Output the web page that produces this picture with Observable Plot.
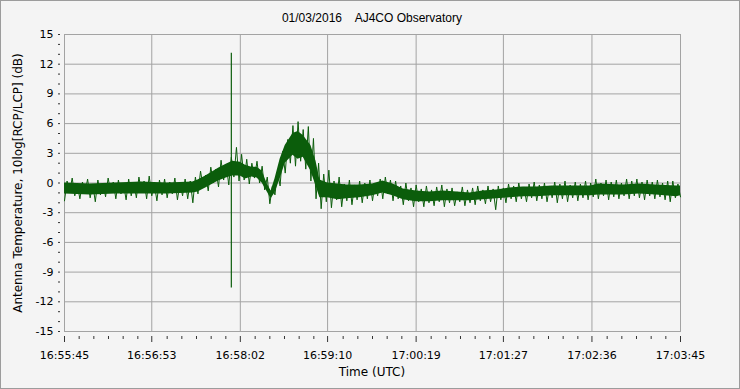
<!DOCTYPE html>
<html><head><meta charset="utf-8">
<script src="https://cdn.jsdelivr.net/npm/d3@7"></script>
<script src="https://cdn.jsdelivr.net/npm/@observablehq/plot@0.6"></script>
<style>
html,body{margin:0;padding:0;background:#f4f4f4;}
#wrap{position:relative;width:738px;height:387px;border:1px solid #9c9c9c;background:#f4f4f4;overflow:hidden;}
#title{position:absolute;top:10px;left:63px;width:616px;text-align:center;font:12px "Liberation Sans",sans-serif;white-space:pre;color:#000;}
#xlabel{position:absolute;top:364px;left:63px;width:616px;text-align:center;font:12px "DejaVu Sans",sans-serif;color:#000;}
#ylabel{position:absolute;left:17px;top:182px;transform:translate(-50%,-50%) rotate(-90deg);white-space:nowrap;font:12px "DejaVu Sans",sans-serif;color:#000;}
#chart{position:absolute;left:0;top:0;}
</style></head><body>
<div id="wrap">
<div id="chart"></div>
<div id="title">01/03/2016    AJ4CO Observatory</div>
<div id="xlabel">Time (UTC)</div>
<div id="ylabel">Antenna Temperature, 10log[RCP/LCP] (dB)</div>
</div>
<script>
// ---- data ----
const dateStr = "2016-01-03";
const startLabel = "16:55:45";
const endLabel = "17:03:45";
const xTickLabels = ["16:55:45","16:56:53","16:58:02","16:59:10","17:00:19","17:01:27","17:02:36","17:03:45"];
const yTicks = [-15,-12,-9,-6,-3,0,3,6,9,12,15];

// noisy trace: alternating local minima / maxima every 2 s from start (dB)
const noiseStepSec = 2;
const noise = [
-1.8, 0.2, -0.9, 0.5, -1.3, -0.2, -1.6, 0.1, -1.0, 0.4,
-1.5, -0.1, -1.9, 0.3, -1.2, 0.0, -1.4, 0.5, -0.9, 0.1,
-1.6, 0.3, -1.1, -0.1, -1.7, 0.4, -1.3, 0.1, -1.5, 0.6,
-1.0, 0.2, -1.6, 0.7, -1.3, -0.1, -1.8, 0.3, -1.2, 0.4,
-1.5, 0.1, -1.1, 0.5, -1.7, 0.0, -1.3, 0.4, -1.6, 0.2,
-2.0, 0.6, -1.1, 1.2, -0.4, 0.8, -0.8, 1.6, 0.0, 1.4,
-0.4, 2.3, 0.3, 1.9, -0.2, 2.6, 0.6, 3.6, 0.2, 2.9,
0.3, 2.4, -0.1, 2.0, 0.5, 2.2, 0.0, 1.7, -0.7, 0.6,
-2.1, -0.3, -1.2, 1.2, -0.3, 3.2, 1.0, 4.4, 2.0, 5.8,
1.7, 6.2, 2.2, 5.4, 1.4, 5.7, 0.2, 4.5, -1.6, 2.0,
-2.6, 0.9, -1.9, 1.3, -2.5, 0.2, -1.7, 0.6, -2.4, -0.1,
-1.8, 0.3, -2.2, -0.2, -1.7, 0.2, -2.0, 0.0, -1.6, 0.3,
-1.8, 0.0, -1.3, 0.4, -1.6, 0.6, -1.1, 0.3, -1.8, 0.2,
-1.6, -0.3, -2.2, 0.0, -1.8, -0.5, -2.4, -0.2, -1.9, -0.6,
-2.4, -0.3, -2.0, -0.7, -2.3, -0.4, -1.9, -0.2, -2.4, -0.6,
-2.0, -0.5, -2.3, -0.9, -1.9, -0.4, -2.3, -0.7, -2.0, -0.5,
-2.2, -0.3, -1.8, -0.7, -2.1, -0.3, -1.9, -0.6, -2.7, -0.3,
-1.7, -0.5, -2.0, -0.1, -1.6, -0.3, -1.9, 0.0, -1.6, -0.4,
-1.9, -0.1, -1.5, 0.1, -1.8, -0.2, -1.6, 0.0, -1.9, -0.3,
-1.5, 0.1, -2.0, -0.1, -1.6, 0.2, -1.9, -0.2, -1.5, 0.1,
-1.8, -0.1, -1.5, 0.2, -1.7, 0.0, -1.4, 0.4, -1.6, 0.0,
-1.3, 0.3, -1.7, 0.1, -1.4, 0.3, -1.6, 0.0, -1.3, 0.4,
-1.6, 0.2, -1.3, 0.4, -1.5, 0.1, -1.7, 0.3, -1.3, 0.1,
-1.6, 0.3, -1.4, 0.0, -1.7, 0.2, -1.9, 0.2, -1.5, -0.1,
-1.4
];

// dense core of the trace (seconds after start, low, high in dB)
const coreSec = [0,20,40,60,80,100,104,110,120,126,131,137,141,146,150,154,158,161,164,168,172,178,182,186,192,196,199,205,213,220,230,240,248,256,264,274,285,295,306,316,326,337,347,357,368,380,395,410,416,435,448,461,477,480];
const coreLo  = [-1.1,-1.2,-1.1,-1.1,-1.1,-1.0,-0.9,-0.5,0.2,0.5,0.7,0.7,0.4,0.6,0.5,0.0,-0.9,-1.6,-1.0,0.4,2.0,2.8,2.4,2.6,1.2,-0.3,-1.5,-1.5,-1.7,-1.6,-1.5,-1.3,-1.0,-1.3,-1.7,-1.9,-1.9,-1.8,-1.8,-1.8,-1.7,-1.6,-1.5,-1.4,-1.4,-1.3,-1.3,-1.3,-1.2,-1.2,-1.1,-1.2,-1.4,-1.3];
const coreHi  = [0.0,-0.1,0.0,0.1,0.0,0.1,0.3,0.7,1.5,1.9,2.2,2.1,1.8,1.6,1.6,1.2,-0.1,-0.8,0.4,2.4,3.8,5.0,5.2,4.8,3.8,2.2,0.3,0.0,-0.1,-0.2,-0.2,-0.1,0.2,-0.1,-0.6,-0.8,-0.9,-0.8,-0.9,-1.0,-0.8,-0.7,-0.5,-0.4,-0.4,-0.3,-0.3,-0.3,-0.1,-0.2,-0.1,-0.2,-0.3,-0.3];

// single impulsive spike
const spikeSec = [130];
const spikeLow = [-10.6];
const spikeHigh = [13.1];

// ---- build ----
const toDate = (hms) => new Date(`${dateStr}T${hms}Z`);
const t0 = toDate(startLabel);
const t1 = toDate(endLabel);
const at = (s) => new Date(+t0 + s * 1000);

const noiseRows = noise.map((v, i) => ({time: at(i * noiseStepSec), value: v}));
const coreRows = coreSec.map((s, i) => ({time: at(s), lo: coreLo[i], hi: coreHi[i]}));
const spikeRows = spikeSec.map((s, i) => ({time: at(s), lo: spikeLow[i], hi: spikeHigh[i]}));

const majorX = xTickLabels.map(toDate);
const nSub = 6;
const minorX = [];
for (let k = 0; k < majorX.length - 1; k++) {
  const a = +t0 + (t1 - t0) * k / (majorX.length - 1);
  const b = +t0 + (t1 - t0) * (k + 1) / (majorX.length - 1);
  for (let j = 1; j < nSub; j++) minorX.push(new Date(a + (b - a) * j / nSub));
}
const minorY = d3.range(-15, 16, 1).filter(v => v % 3 !== 0);

const green = "#0b5d0b";
const gridColor = "#a3a3a3";
const fmt = d3.utcFormat("%H:%M:%S");

const chart = Plot.plot({
  width: 738,
  height: 387,
  marginLeft: 63,
  marginRight: 59,
  marginTop: 33,
  marginBottom: 57,
  style: {background: "transparent", fontFamily: "DejaVu Sans, sans-serif", fontSize: "11px", color: "#000"},
  x: {type: "utc", domain: [t0, t1]},
  y: {domain: [-15, 15]},
  marks: [
    Plot.gridX(majorX, {stroke: gridColor, strokeOpacity: 1}),
    Plot.gridY(yTicks, {stroke: gridColor, strokeOpacity: 1}),
    Plot.frame({stroke: gridColor}),
    Plot.areaY(coreRows, {x: "time", y1: "lo", y2: "hi", fill: green}),
    Plot.lineY(noiseRows, {x: "time", y: "value", stroke: green, strokeWidth: 1}),
    Plot.ruleX(spikeRows, {x: "time", y1: "lo", y2: "hi", stroke: green, strokeWidth: 1.2}),
    Plot.axisX(majorX, {tickSize: 6, dy: 5, tickPadding: 9, tickFormat: fmt, label: null, stroke: "#333"}),
    Plot.axisX(minorX, {tickSize: 3, dy: 5, tickFormat: () => "", label: null, stroke: "#333"}),
    Plot.axisY(yTicks, {tickSize: 2, dx: -4, tickPadding: 5, tickFormat: d => String(d), label: null, stroke: "#333"}),
    Plot.axisY(minorY, {tickSize: 2, dx: -4, tickFormat: () => "", label: null, stroke: "#333"})
  ]
});
document.getElementById("chart").append(chart);
</script>
</body></html>
